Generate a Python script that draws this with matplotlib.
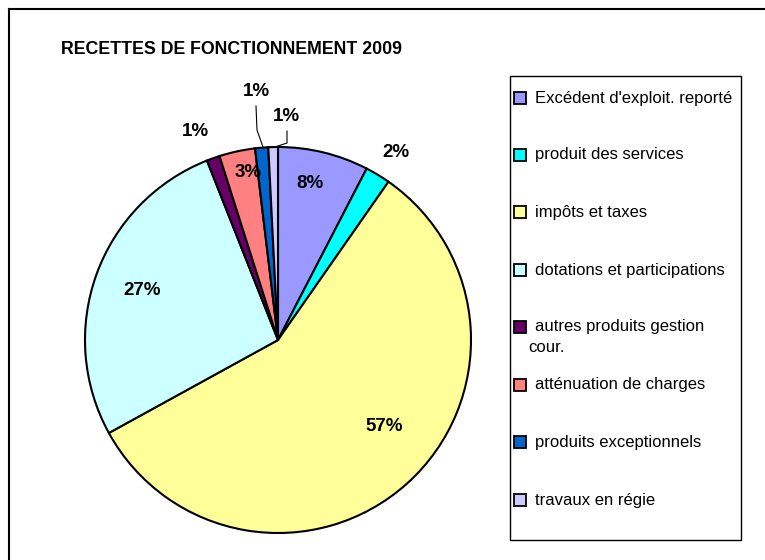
import numpy as np
import matplotlib.pyplot as plt
from matplotlib.patches import Rectangle
from matplotlib.lines import Line2D

plt.rcParams['font.family'] = ['Liberation Sans', 'DejaVu Sans']

title = "RECETTES DE FONCTIONNEMENT 2009"
labels = ["Excédent d'exploit. reporté", "produit des services", "impôts et taxes",
          "dotations et participations", "autres produits gestion\ncour.",
          "atténuation de charges", "produits exceptionnels", "travaux en régie"]
values = [7.6, 2.1, 57.3, 27.0, 1.1, 3.0, 1.1, 0.8]
colors = ['#9999FF', '#00FFFF', '#FFFF99', '#CCFFFF', '#660066', '#FF8080', '#0066CC', '#CCCCFF']

W, H = 765, 560
fig = plt.figure(figsize=(W / 100, H / 100), dpi=100)

# pie centre and radius in pixels
cx, cy, r = 278, 340, 193
ax = fig.add_axes([(cx - r) / W, (H - cy - r) / H, 2 * r / W, 2 * r / H])
wedges, _ = ax.pie(values, colors=colors, startangle=90, counterclock=False, radius=1,
                   wedgeprops=dict(edgecolor='black', linewidth=1.5))
ax.set_xlim(-1, 1)
ax.set_ylim(-1, 1)
ax.set_aspect('equal')
ax.axis('off')

# label radius factor per slice (>1 means outside) and small angle nudges
lab_r = [0.83, 1.15, 0.71, 0.75, 1.16, 0.88, 1.29, 1.16]
lab_shift = [2, -1, 9, 0, 2, -2, 0, -3.7]
for w, v, lr, sh in zip(wedges, values, lab_r, lab_shift):
    ang = np.deg2rad((w.theta1 + w.theta2) / 2 + sh)
    ax.text(lr * np.cos(ang), lr * np.sin(ang), f"{round(v)}%", ha='center', va='center',
            fontsize=13.5, fontweight='bold')

# leader lines for the two smallest outside labels
def px(x, y):
    return ((x - cx) / r, (cy - y) / r)

for pts in ([(256, 106), (257, 130), (263, 147)], [(287, 131), (287, 143), (275, 147)]):
    xs, ys = zip(*[px(*p) for p in pts])
    ax.plot(xs, ys, color='black', lw=0.8, clip_on=False)

fig.text(61 / W, 1 - 50 / H, title, fontsize=12.8, fontweight='bold', va='center', ha='left')

# outer frame (left and top edges)
fig.add_artist(Line2D([9 / W, 9 / W], [0, 1 - 9 / H], color='black', lw=1.5))
fig.add_artist(Line2D([9 / W, 1], [1 - 9 / H, 1 - 9 / H], color='black', lw=1.5))

# legend box
fig.add_artist(Rectangle((510 / W, 1 - 540 / H), 231 / W, 464 / H, transform=fig.transFigure,
                         fill=False, edgecolor='black', lw=1))
ys = [98, 155, 212, 270, 327, 385, 442, 500]
for yy, lab, c in zip(ys, labels, colors):
    fig.add_artist(Rectangle((514 / W, 1 - (yy + 6) / H), 12 / W, 12 / H, transform=fig.transFigure,
                             facecolor=c, edgecolor='black', lw=1.3))
    lines = lab.split('\n')
    fig.text(535 / W, 1 - yy / H, lines[0], fontsize=12, va='center', ha='left')
    if len(lines) > 1:
        # wrapped second line sits a bit to the left, as in the original legend
        fig.text(528 / W, 1 - (yy + 21) / H, lines[1], fontsize=12, va='center', ha='left')

fig.savefig('out.png', dpi=100)
